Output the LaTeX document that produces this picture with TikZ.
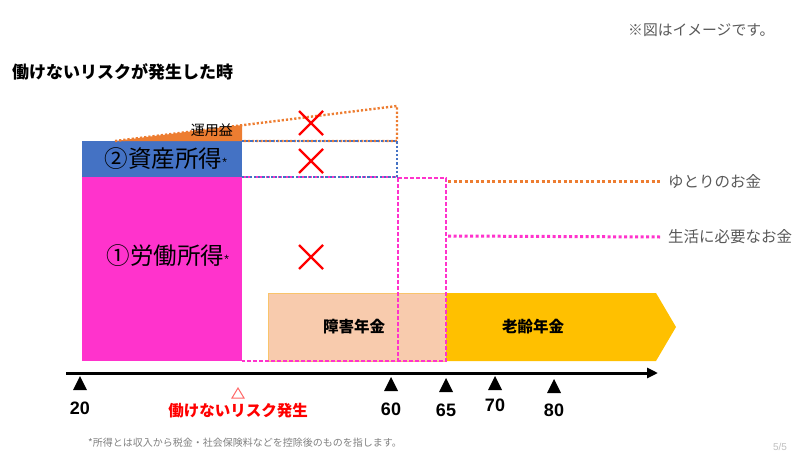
\documentclass[tikz,border=0pt]{standalone}
\usepackage{fontspec}
\setmainfont{Liberation Sans}
\newfontfamily\jp{Noto Sans CJK JP}
\usetikzlibrary{arrows.meta}
\definecolor{labourpink}{HTML}{FF33CC}
\definecolor{assetblue}{HTML}{4472C4}
\definecolor{gainorange}{HTML}{ED7D31}
\definecolor{peach}{HTML}{F8CBAD}
\definecolor{peachedge}{HTML}{F9C46B}
\definecolor{pensiongold}{HTML}{FFC000}
\definecolor{greytext}{HTML}{595959}
\definecolor{notegrey}{HTML}{7F7F7F}
\tikzset{
  jptext/.style={inner sep=0pt, font=\jp\fontsize{#1}{#1}\selectfont},
  dotline/.style={line width=2.4pt, dash pattern=on 2.2pt off 2pt},
  leader/.style={line width=3pt, dash pattern=on 3pt off 2.5pt},
  pinkdash/.style={labourpink, line width=1.2pt, dash pattern=on 4pt off 2pt},
  cross/.style={red, line width=2.2pt},
  agelabel/.style={inner sep=0pt, font=\bfseries\fontsize{18}{18}\selectfont}
}

\begin{document}
\begin{tikzpicture}[x=1pt, y=-1pt]
  \useasboundingbox (0,0) rectangle (800,471);

  % headings
  \node[jptext=14.8, text=greytext, anchor=west] (note) at (628,30) {※図はイメージです。};
  \node[jptext=17, anchor=west, font=\jp\bfseries\fontsize{17}{17}\selectfont] (title) at (12,72) {働けないリスクが発生した時};

  % income blocks
  \fill[labourpink] (82,177) rectangle (242,361);
  \fill[assetblue] (82,141) rectangle (242,177);
  \fill[gainorange] (115,141) -- (242,125) -- (242,141) -- cycle;
  \node[jptext=23.5] (asset) at (166,159) {②資産所得\raisebox{1pt}{\rmfamily\fontsize{12}{12}\selectfont *}};
  \node[jptext=23.5] (labour) at (168,256) {①労働所得\raisebox{1pt}{\rmfamily\fontsize{12}{12}\selectfont *}};

  % pensions
  \filldraw[fill=peach, draw=peachedge, line width=0.8pt] (268,293) rectangle (446,361);
  \fill[pensiongold] (446,293) -- (656,293) -- (676,327) -- (656,361) -- (446,361) -- cycle;
  \node[jptext=15.5, font=\jp\bfseries\fontsize{15.5}{15.5}\selectfont] (disab) at (354,327) {障害年金};
  \node[jptext=15.5, font=\jp\bfseries\fontsize{15.5}{15.5}\selectfont] (oldage) at (533,327) {老齢年金};

  % what is needed
  \draw[pinkdash] (242,177) -- (397,177) (398,178) -- (446,178) -- (446,361) -- (242,361) (398,178) -- (398,361);
  \draw[dotline, gainorange] (115,141) -- (397,106) -- (397,141) -- (242,141);
  \draw[dotline, assetblue, line width=2pt] (242,141) -- (397,141) -- (397,177) -- (242,177);
  \node[jptext=14, anchor=east] (gain) at (233,130) {運用益};
  \node[jptext=15.5, text=greytext, anchor=west] (yutori) at (668,181) {ゆとりのお金};
  \node[jptext=15.5, text=greytext, anchor=west] (living) at (668,237) {生活に必要なお金};
  \coordinate (yutoriFrom) at (448,181);
  \coordinate (livingFrom) at (448,236);
  \draw[leader, gainorange] (yutoriFrom) -- ([xshift=-8]yutori.west);
  \draw[leader, labourpink] (livingFrom) -- ([xshift=-8]living.west);

  % lost income
  \foreach \yy in {123,161,257}
    \draw[cross] (299,\yy-12) -- (323,\yy+12) (299,\yy+12) -- (323,\yy-12);

  % age axis
  \coordinate (axisStart) at (66,373);
  \coordinate (axisEnd) at (658,373);
  \draw[line width=3pt, -{Triangle[length=11pt, width=10pt]}] (axisStart) -- (axisEnd);
  \foreach \x/\yt/\yl/\lab in {80/376/408/20, 391/377/409/60, 446/378/410/65, 495/376/405/70, 554/379/410/80} {
    \fill (\x-7,\yt+14) -- (\x+7,\yt+14) -- (\x,\yt) -- cycle;
    \node[agelabel] (age\lab) at (\x,\yl) {\lab};
  }
  \draw[red!60, line width=1pt] (232,398) -- (244,398) -- (238,388) -- cycle;
  \node[jptext=15.5, text=red, font=\jp\bfseries\fontsize{15.5}{15.5}\selectfont] (risk) at (238,411) {働けないリスク発生};

  % footnote
  \node[jptext=10, text=notegrey, anchor=west] (foot) at (88,443) {*所得とは収入から税金・社会保険料などを控除後のものを指します。};
  \node[inner sep=0pt, text=black!25, font=\fontsize{10}{10}\selectfont] (page) at (780,447) {5/5};
\end{tikzpicture}
\end{document}
